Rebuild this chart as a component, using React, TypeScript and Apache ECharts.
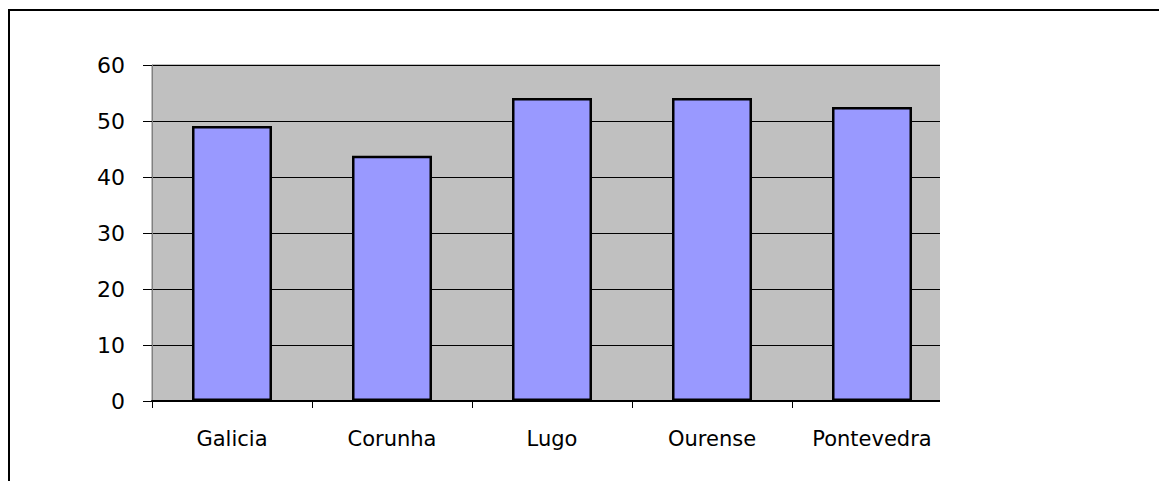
import React, { useEffect, useRef } from "react";
import * as echarts from "echarts";

const categories = ["Galicia", "Corunha", "Lugo", "Ourense", "Pontevedra"];
const values = [49.1, 43.8, 54.1, 54.1, 52.5];
const yTicks = [0, 10, 20, 30, 40, 50, 60];

export default function App() {
  const ref = useRef<HTMLDivElement>(null);
  useEffect(() => {
    document.body.style.margin = "0";
    const chart = echarts.init(ref.current!, null, { renderer: "svg" });
    chart.setOption({
      animation: false,
      backgroundColor: "#ffffff",
      textStyle: { fontFamily: "DejaVu Sans" },
      grid: {
        left: 152,
        right: 207,
        top: 65,
        bottom: 80,
        show: true,
        backgroundColor: "#c0c0c0",
        borderColor: "#808080",
        borderWidth: 1,
      },
      graphic: [
        {
          type: "rect",
          z: 100,
          shape: { x: 940, y: 55, width: 20, height: 360 },
          style: { fill: "#ffffff", stroke: "none" },
          silent: true,
        },
        {
          type: "rect",
          z: 100,
          shape: { x: 9, y: 10, width: 1170, height: 490 },
          style: { fill: "none", stroke: "#000", lineWidth: 2 },
          silent: true,
        },
      ],
      xAxis: {
        type: "category",
        data: categories,
        axisLine: { show: true, lineStyle: { color: "#000", width: 2 } },
        axisTick: { show: true, length: 7, lineStyle: { color: "#000", width: 1 } },
        axisLabel: {
          color: "#000",
          fontSize: 21,
          margin: 27,
          fontFamily: "DejaVu Sans",
        },
        splitLine: { show: false },
      },
      yAxis: {
        type: "value",
        min: yTicks[0],
        max: yTicks[yTicks.length - 1],
        interval: 10,
        axisLine: { show: true, lineStyle: { color: "#808080", width: 1 } },
        axisTick: { show: true, length: 9, lineStyle: { color: "#000", width: 1 } },
        axisLabel: {
          color: "#000",
          fontSize: 22,
          margin: 27,
          fontFamily: "DejaVu Sans",
        },
        splitLine: { show: true, lineStyle: { color: "#000", width: 1 } },
      },
      series: [
        {
          type: "bar",
          data: values,
          barCategoryGap: "50%",
          itemStyle: { color: "#9999ff", borderColor: "#000", borderWidth: 2.5 },
        },
      ],
    });
    return () => chart.dispose();
  }, []);
  return <div ref={ref} style={{ width: 1159, height: 481 }} />;
}
